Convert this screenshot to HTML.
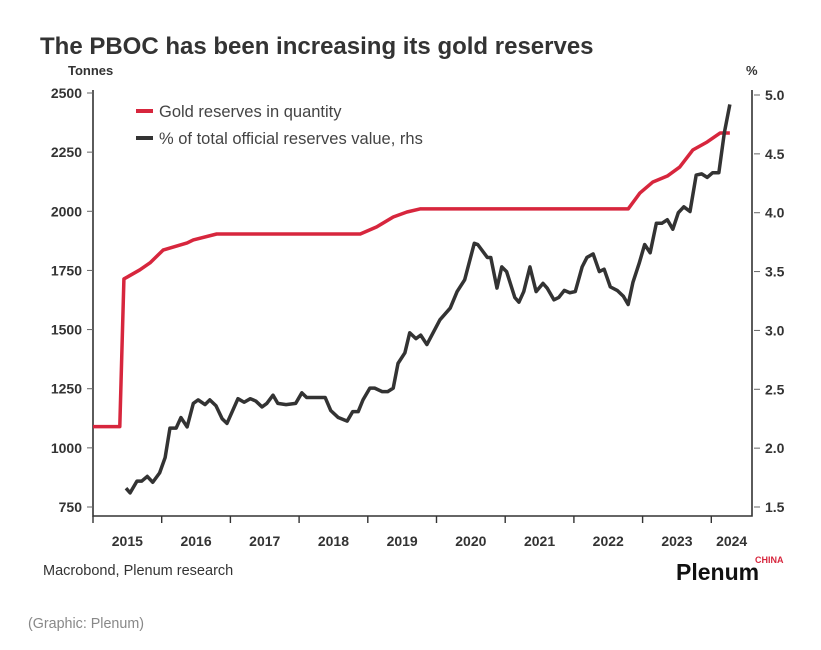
<!DOCTYPE html>
<html><head><meta charset="utf-8"><style>
body{margin:0;background:#fff;}
svg{display:block;font-family:"Liberation Sans",sans-serif;}
</style></head><body>
<svg width="821" height="650" viewBox="0 0 821 650">
<text x="40" y="54" font-size="24" font-weight="bold" fill="#333">The PBOC has been increasing its gold reserves</text>
<text x="68" y="75" font-size="13" font-weight="bold" fill="#333">Tonnes</text>
<text x="746" y="75" font-size="13" font-weight="bold" fill="#333">%</text>
<g id="axes"></g>
<g id="series"></g>
<g>
<line x1="136" y1="111" x2="153" y2="111" stroke="#d7263d" stroke-width="4"/>
<text x="159" y="117" font-size="16.5" fill="#444">Gold reserves in quantity</text>
<line x1="136" y1="138" x2="153" y2="138" stroke="#333" stroke-width="4"/>
<text x="159" y="144" font-size="16.5" fill="#444">% of total official reserves value, rhs</text>
</g>
<text x="43" y="575" font-size="14.5" fill="#333">Macrobond, Plenum research</text>
<text x="28" y="628" font-size="14.3" fill="#888">(Graphic: Plenum)</text>
<text x="676" y="580" font-size="23" font-weight="bold" fill="#111">Plenum</text>
<text x="755" y="563" font-size="9" font-weight="bold" fill="#d7263d">CHINA</text>
</svg>
<script>
const leftTicks=[750,1000,1250,1500,1750,2000,2250,2500];
const rightTicks=[1.5,2.0,2.5,3.0,3.5,4.0,4.5,5.0];
const years=[2015,2016,2017,2018,2019,2020,2021,2022,2023,2024];
const goldDates=[2015.0,2015.39,2015.45,2015.68,2015.83,2016.02,2016.37,2016.46,2016.80,2018.89,2019.13,2019.37,2019.57,2019.76,2022.79,2022.96,2023.15,2023.36,2023.54,2023.73,2023.94,2024.13,2024.27];
const goldTonnes=[1090,1090,1714,1752,1782,1836,1866,1879,1904,1904,1934,1976,1997,2010,2010,2077,2124,2149,2187,2259,2293,2331,2331];
const shareDates=[2015.48,2015.54,2015.64,2015.71,2015.79,2015.87,2015.97,2016.05,2016.12,2016.21,2016.28,2016.37,2016.46,2016.53,2016.63,2016.70,2016.79,2016.88,2016.95,2017.11,2017.20,2017.29,2017.37,2017.46,2017.53,2017.62,2017.69,2017.81,2017.95,2018.04,2018.11,2018.33,2018.38,2018.46,2018.57,2018.70,2018.78,2018.86,2018.93,2019.03,2019.10,2019.21,2019.29,2019.37,2019.44,2019.54,2019.61,2019.70,2019.77,2019.86,2019.95,2020.05,2020.20,2020.30,2020.41,2020.55,2020.60,2020.74,2020.79,2020.88,2020.95,2021.02,2021.14,2021.20,2021.27,2021.36,2021.45,2021.55,2021.61,2021.71,2021.78,2021.86,2021.94,2022.02,2022.12,2022.19,2022.28,2022.37,2022.44,2022.53,2022.63,2022.72,2022.79,2022.86,2022.95,2023.03,2023.11,2023.20,2023.28,2023.36,2023.44,2023.52,2023.60,2023.69,2023.78,2023.86,2023.94,2024.02,2024.11,2024.19,2024.27];
const sharePct=[1.66,1.62,1.72,1.72,1.76,1.71,1.79,1.92,2.17,2.17,2.26,2.18,2.38,2.41,2.37,2.41,2.36,2.25,2.21,2.42,2.39,2.42,2.40,2.35,2.38,2.45,2.38,2.37,2.38,2.47,2.43,2.43,2.43,2.32,2.26,2.23,2.31,2.31,2.41,2.51,2.51,2.48,2.48,2.51,2.72,2.81,2.98,2.93,2.96,2.88,2.98,3.09,3.19,3.33,3.43,3.74,3.73,3.62,3.62,3.36,3.54,3.50,3.28,3.24,3.33,3.54,3.33,3.40,3.36,3.26,3.28,3.34,3.32,3.33,3.54,3.62,3.65,3.50,3.52,3.37,3.34,3.29,3.22,3.41,3.57,3.73,3.66,3.91,3.91,3.94,3.86,4.00,4.05,4.01,4.32,4.33,4.30,4.34,4.34,4.68,4.92];

const NS='http://www.w3.org/2000/svg';
const X0=93,X1=752,Y0=516;
const xS=t=>93+(t-2015)*68.7;
const yL=v=>93+(2500-v)*414/1750;
const yR=v=>95+(5-v)*412/3.5;
function mk(tag,attrs,parent){const e=document.createElementNS(NS,tag);for(const k in attrs)e.setAttribute(k,attrs[k]);parent.appendChild(e);return e;}
const ax=document.getElementById('axes');
let e;
e=mk('path',{d:`M${X0},90V${Y0}H${X1}V90`,fill:'none',stroke:'#333','stroke-width':1.6},ax);


leftTicks.forEach(v=>{const y=yL(v);
 e=mk('line',{x1:87,x2:X0,y1:y,y2:y,stroke:'#666','stroke-width':1},ax);
 
 
 e=mk('text',{x:82,y:y+5,'text-anchor':'end','font-size':14,'font-weight':'bold',fill:'#333'},ax);e.textContent=v;
 
 
});
rightTicks.forEach(v=>{const y=yR(v);
 e=mk('line',{x1:X1+2,x2:X1+8,y1:y,y2:y,stroke:'#666','stroke-width':1},ax);
 
 
 e=mk('text',{x:765,y:y+5,'font-size':14,'font-weight':'bold',fill:'#333'},ax);e.textContent=v.toFixed(1);
 
 
});
years.forEach(yr=>{const x=xS(yr);
 e=mk('line',{x1:x,x2:x,y1:Y0,y2:Y0+7,stroke:'#333','stroke-width':1.4},ax);
 
 
 const cx=Math.min((x+xS(yr+1))/2,(x+X1)/2);
 e=mk('text',{x:cx,y:546,'text-anchor':'middle','font-size':14,'font-weight':'bold',fill:'#333'},ax);e.textContent=yr;
 
 
});
const sr=document.getElementById('series');
e=mk('polyline',{points:goldDates.map((t,i)=>xS(t)+','+yL(goldTonnes[i])).join(' '),fill:'none',stroke:'#d7263d','stroke-width':3.5,'stroke-linejoin':'round'},sr);


e=mk('polyline',{points:shareDates.map((t,i)=>xS(t)+','+yR(sharePct[i])).join(' '),fill:'none',stroke:'#333','stroke-width':3.5,'stroke-linejoin':'round'},sr);


</script>
</body></html>
